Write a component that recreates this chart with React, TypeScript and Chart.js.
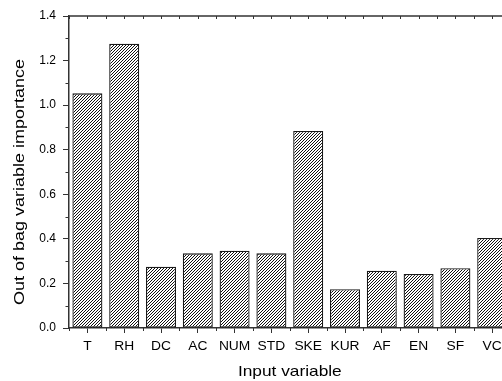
import React, { useEffect, useRef } from 'react';
import { Chart, registerables } from 'chart.js';

Chart.register(...registerables);

const categories = ['T', 'RH', 'DC', 'AC', 'NUM', 'STD', 'SKE', 'KUR', 'AF', 'EN', 'SF', 'VC'];
const importance = [1.053, 1.276, 0.275, 0.335, 0.347, 0.335, 0.884, 0.174, 0.257, 0.242, 0.268, 0.404];
const yTicks = [0, 0.2, 0.4, 0.6, 0.8, 1.0, 1.2, 1.4];
const xTitle = 'Input variable';
const yTitle = 'Out of bag variable importance';

const FONT = '"Liberation Sans", Arial, sans-serif';
const AXIS = '#333';

function makeHatch(): CanvasPattern | string {
  const c = document.createElement('canvas');
  c.width = 3;
  c.height = 3;
  const ctx = c.getContext('2d');
  if (!ctx) return '#999';
  ctx.fillStyle = '#fff';
  ctx.fillRect(0, 0, 3, 3);
  ctx.fillStyle = '#111';
  for (let x = 0; x < 3; x++) {
    for (let y = 0; y < 3; y++) {
      if ((x + y) % 3 === 2) ctx.fillRect(x, y, 1, 1);
    }
  }
  return ctx.createPattern(c, 'repeat') || '#999';
}

const decor = {
  id: 'decor',
  afterDraw(chart: any) {
    const { ctx, chartArea: a, scales } = chart;
    const xs = scales.x;
    const ys = scales.y;
    const n = categories.length;
    ctx.save();
    ctx.strokeStyle = AXIS;
    ctx.lineWidth = 1;
    // y minor ticks
    for (let i = 0; i < yTicks.length - 1; i++) {
      const v = (yTicks[i] + yTicks[i + 1]) / 2;
      const py = Math.round(ys.getPixelForValue(v)) + 0.5;
      ctx.beginPath();
      ctx.moveTo(a.left - 3.5, py);
      ctx.lineTo(a.left, py);
      ctx.stroke();
    }
    // x boundary (minor) ticks
    for (let i = 0; i <= n; i++) {
      const px = Math.round(xs.getPixelForValue(i - 0.5)) + 0.5;
      ctx.beginPath();
      ctx.moveTo(px, a.bottom);
      ctx.lineTo(px, a.bottom + 3);
      ctx.stroke();
    }
    // top axis
    ctx.lineWidth = 1.5;
    ctx.beginPath();
    ctx.moveTo(a.left, a.top);
    ctx.lineTo(a.right, a.top);
    ctx.stroke();
    ctx.lineWidth = 1;
    for (let i = 0; i <= 2 * n; i++) {
      const px = Math.round(xs.getPixelForValue(i / 2 - 0.5)) + 0.5;
      ctx.beginPath();
      ctx.moveTo(px, a.top);
      ctx.lineTo(px, a.top + 3);
      ctx.stroke();
    }
    // right axis
    ctx.lineWidth = 1.5;
    ctx.beginPath();
    ctx.moveTo(a.right, a.top);
    ctx.lineTo(a.right, a.bottom);
    ctx.stroke();

    ctx.fillStyle = '#000';
    ctx.textAlign = 'center';
    ctx.textBaseline = 'alphabetic';

    // x tick labels (slightly wide, as in the reference)
    ctx.font = '12px ' + FONT;
    categories.forEach((c, i) => {
      ctx.save();
      ctx.translate(xs.getPixelForValue(i), a.bottom + 21.5);
      ctx.scale(1.15, 1);
      ctx.fillText(c, 0, 0);
      ctx.restore();
    });

    // titles
    ctx.font = '15px ' + FONT;
    ctx.save();
    ctx.translate((a.left + a.right) / 2, a.bottom + 47.5);
    ctx.scale(1.153, 1);
    ctx.fillText(xTitle, 0, 0);
    ctx.restore();
    ctx.save();
    ctx.translate(a.left - 45.5, (a.top + a.bottom) / 2 + 10);
    ctx.rotate(-Math.PI / 2);
    ctx.scale(1.2, 1);
    ctx.fillText(yTitle, 0, 0);
    ctx.restore();
    ctx.restore();
  },
};

export default function App() {
  const ref = useRef<HTMLCanvasElement>(null);
  useEffect(() => {
    if (!ref.current) return;
    const hatch = makeHatch();
    const chart = new Chart(ref.current, {
      type: 'bar',
      data: {
        labels: categories,
        datasets: [
          {
            data: importance,
            backgroundColor: hatch as any,
            borderColor: '#1a1a1a',
            borderWidth: 1.3,
            borderSkipped: false,
            barPercentage: 0.815,
            categoryPercentage: 1,
          },
        ],
      },
      options: {
        responsive: false,
        animation: false,
        devicePixelRatio: 1,
        layout: { padding: { top: 16, right: 9.4, left: 0, bottom: 0 } },
        plugins: { legend: { display: false }, tooltip: { enabled: false }, title: { display: false } },
        scales: {
          x: {
            grid: { display: true, drawOnChartArea: false, drawTicks: true, tickLength: 5, color: AXIS, offset: false },
            border: { display: true, color: AXIS, width: 1.5 },
            ticks: { display: false, autoSkip: false, maxRotation: 0 },
            afterFit: (s: any) => {
              s.height = 53;
            },
          },
          y: {
            min: 0,
            max: 1.4,
            afterBuildTicks: (s: any) => {
              s.ticks = yTicks.map((v) => ({ value: v }));
            },
            ticks: {
              color: '#000',
              font: { family: FONT, size: 12 },
              padding: 7,
              callback: (v: any) => Number(v).toFixed(1),
            },
            grid: { display: true, drawOnChartArea: false, drawTicks: true, tickLength: 6, color: AXIS },
            border: { display: true, color: AXIS, width: 1.5 },
            afterFit: (s: any) => {
              s.width = 69;
            },
          },
        },
      },
      plugins: [decor],
    });
    return () => chart.destroy();
  }, []);
  return (
    <div
      style={{
        position: 'absolute',
        left: 0,
        top: 0,
        width: 502,
        height: 381,
        overflow: 'hidden',
        background: '#fff',
      }}
    >
      <canvas ref={ref} width={520} height={381} style={{ display: 'block', width: 520, height: 381 }} />
    </div>
  );
}
